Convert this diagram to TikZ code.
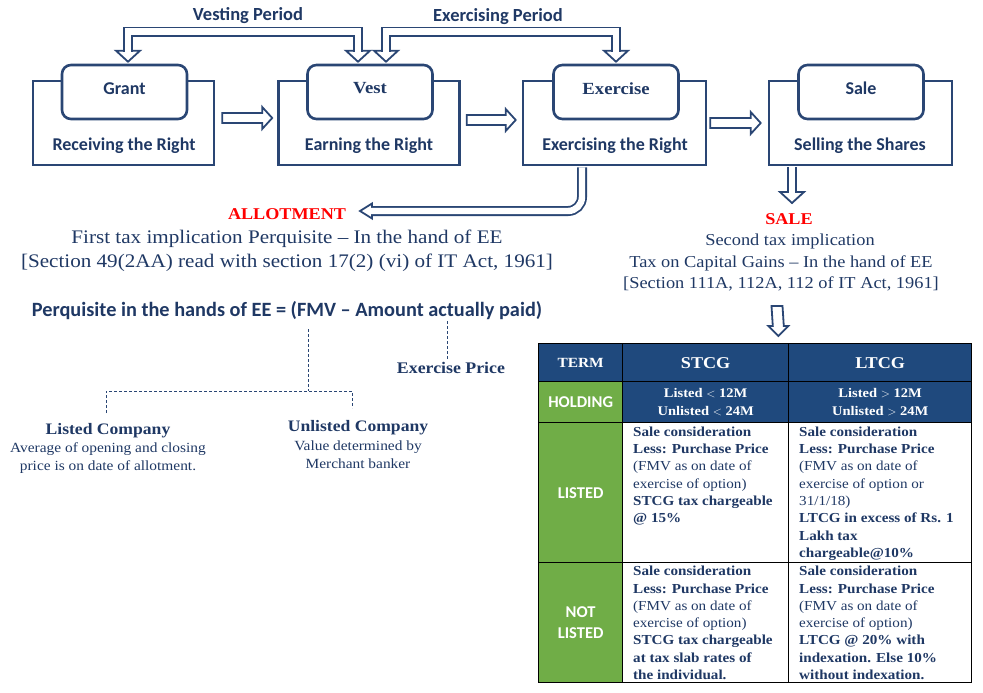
\documentclass[tikz,border=0pt]{standalone}
\usepackage{fontspec}
\setmainfont{Liberation Serif}[FakeStretch=1.1]
\newfontfamily\calib{Carlito}[Ligatures=TeX]
\usetikzlibrary{calc}
\definecolor{navy}{HTML}{1F3864}
\definecolor{lnavy}{HTML}{2A4674}
\definecolor{hdr}{HTML}{1F497D}
\definecolor{grn}{HTML}{70AD47}
\definecolor{redt}{HTML}{FF0000}
\newcommand\fs[2]{\fontsize{#1}{#2}\selectfont}
\tikzset{
  outerbox/.style={draw=lnavy, line width=2.6pt, minimum width=181pt, minimum height=84pt},
  innerbox/.style={draw=lnavy, fill=white, line width=2.6pt, rounded corners=9pt, minimum width=125pt, minimum height=54pt, font=\calib\bfseries\fs{18}{21}},
  innerserif/.style={innerbox, font=\bfseries\fs{17}{20}},
  subtxt/.style={font=\calib\bfseries\fs{18}{21}},
  pertxt/.style={font=\calib\bfseries\fs{18.5}{21}},
  blockarrow/.style={draw=lnavy, fill=white, line width=1.8pt, line join=miter},
  shaft/.style={draw=lnavy, line width=1.8pt, double=white, double distance=6.4pt, line join=miter},
  dashline/.style={draw=lnavy, line width=0.8pt, dash pattern=on 3pt off 2pt},
  bighead/.pic={\draw[blockarrow] (-11,-12) -- (0,0) -- (-11,12) -- cycle;},
  smallhead/.pic={\draw[blockarrow] (-12,-7.5) -- (0,0) -- (-12,7.5) -- cycle;},
  cell/.style={draw=black, line width=1.3pt, anchor=north west, align=center},
  hcell/.style={cell, fill=hdr, text=white},
  gcell/.style={cell, fill=grn, text=white, font=\calib\bfseries\fs{16.5}{21}},
  celltxt/.style={anchor=north west, align=left, font=\fs{13.75}{17.3}},
  redtitle/.style={text=redt, font=\bfseries\fs{16.5}{20}},
  bodytxt/.style={font=\fs{19.2}{24}, align=center},
  bodytxtR/.style={font=\fs{16.7}{21}, align=center},
}
\newcommand\myrarrow[2]{\draw[blockarrow] ($(#1)+(0,-5)$) -- ($(#2)+(-10,-5)$) -- ($(#2)+(-10,-11)$) -- (#2) -- ($(#2)+(-10,11)$) -- ($(#2)+(-10,5)$) -- ($(#1)+(0,5)$) -- cycle;}
\begin{document}
\begin{tikzpicture}[x=1pt,y=-1pt, every node/.style={inner sep=0, text=navy}]
\useasboundingbox (0,0) rectangle (983,693);
% ---- boxes
\node[outerbox] (grantO) at (123.5,123) {};
\node[outerbox] (vestO) at (369,123) {};
\node[outerbox, minimum width=183pt] (exO) at (614.5,123) {};
\node[outerbox, minimum width=183pt] (saleO) at (860.5,123) {};
\node[innerbox] (grantI) at (124.5,92) {\raisebox{7.5pt}{Grant}};
\node[innerserif] (vestI) at (370,92) {\raisebox{7.5pt}{Vest}};
\node[innerserif] (exI) at (616,92) {\raisebox{7.5pt}{Exercise}};
\node[innerbox] (saleI) at (861,92) {\raisebox{7.5pt}{Sale}};
\node[subtxt] (grantT) at (124,146) {Receiving the Right};
\node[subtxt] (vestT) at (369,146) {Earning the Right};
\node[subtxt] (exT) at (615,146) {Exercising the Right};
\node[subtxt] (saleT) at (860,146) {Selling the Shares};
% ---- horizontal arrows
\coordinate (h1s) at ($(grantO.east)+(7,-5)$);
\coordinate (h1t) at ($(vestO.west)+(-5,-5)$);
\coordinate (h2s) at ($(vestO.east)+(6,-3)$);
\coordinate (h2t) at ($(exO.west)+(-6,-3)$);
\coordinate (h3s) at ($(exO.east)+(3,0)$);
\coordinate (h3t) at ($(saleO.west)+(-7,0)$);
\myrarrow{h1s}{h1t}
\myrarrow{h2s}{h2t}
\myrarrow{h3s}{h3t}
% ---- period brackets
\node[pertxt] (vper) at (248,16) {Vesting Period};
\node[pertxt] (eper) at (498,17) {Exercising Period};
\coordinate (vpL) at ($(grantI.north)+(3.5,-2)$);
\coordinate (vpR) at ($(vestI.north)+(-12,-2)$);
\coordinate (epL) at ($(vestI.north)+(16,-2)$);
\coordinate (epR) at ($(exI.north)+(0,-2)$);
\pic[rotate=-90] at (vpL) {bighead};
\pic[rotate=-90] at (vpR) {bighead};
\pic[rotate=-90] at (epL) {bighead};
\pic[rotate=-90] at (epR) {bighead};
\draw[shaft] ($(vpL)+(0,-10)$) -- ++(0,-20) -| ($(vpR)+(0,-10)$);
\draw[shaft] ($(epL)+(0,-10)$) -- ++(0,-20) -| ($(epR)+(0,-10)$);
% ---- allotment
\node[redtitle] (allot) at (287,214) {ALLOTMENT};
\node[bodytxt] (first) at (287,239) {First tax implication Perquisite -- In the hand of EE};
\node[bodytxt] (sec49) at (287,263) {[Section 49(2AA) read with section 17(2) (vi) of IT Act, 1961]};
\coordinate (alS) at ($(exO.south)+(-32.5,1)$);
\coordinate (alT) at (360,211);
\pic[rotate=180] at (alT) {smallhead};
\draw[shaft, rounded corners=14pt] (alS) |- ($(alT)+(11,0)$);
% ---- sale
\node[redtitle] (sale) at (789,219) {SALE};
\node[bodytxtR] (second) at (790,241) {Second tax implication};
\node[bodytxtR] (taxcg) at (781,263) {Tax on Capital Gains -- In the hand of EE};
\node[bodytxtR] (sec111) at (781,284) {[Section 111A, 112A, 112 of IT Act, 1961]};
\coordinate (sdS) at ($(saleO.south)+(-68.5,1)$);
\coordinate (sdT) at (792,203);
\pic[rotate=-90] at (sdT) {bighead};
\draw[shaft] (sdS) -- ($(sdT)+(0,-10)$);
% ---- perquisite
\node[font=\calib\bfseries\fs{20.3}{24}] (perq) at (287,311) {Perquisite in the hands of EE = (FMV -- Amount actually paid)};
\node[font=\bfseries\fs{16.2}{18}] (exprice) at (451,368) {Exercise Price};
\node[font=\bfseries\fs{16}{19}] (lcT) at (108,431) {Listed Company};
\node[font=\fs{14}{18}, align=center] (lcD) at (108,458) {Average of opening and closing\\price is on date of allotment.};
\node[font=\bfseries\fs{16}{19}] (ucT) at (358,428) {Unlisted Company};
\node[font=\fs{14}{18}, align=center] (ucD) at (358,455) {Value determined by\\Merchant banker};
\coordinate (fmvP) at (308,329);
\coordinate (jn) at (308,391);
\coordinate (jl) at (106,391);
\coordinate (jr) at (352,391);
\coordinate (lcTop) at (106,413);
\coordinate (ucTop) at (352,408);
\coordinate (ep1) at (447,321);
\coordinate (ep2) at (447,360);
\draw[dashline] (fmvP) -- (jn);
\draw[dashline] (lcTop) -- (jl) -- (jr) -- (ucTop);
\draw[dashline] (ep1) -- (ep2);
% ---- table
\node[hcell, minimum width=84pt, minimum height=38pt, font=\bfseries\fs{14}{15}] (termH) at (538,343) {TERM};
\node[hcell, minimum width=166pt, minimum height=38pt, font=\bfseries\fs{16.5}{20}] (stcgH) at (622,343) {STCG};
\node[hcell, minimum width=183pt, minimum height=38pt, font=\bfseries\fs{16.5}{20}] (ltcgH) at (788,343) {LTCG};
\node[gcell, minimum width=84pt, minimum height=41pt] (holdC) at (538,381) {HOLDING};
\node[hcell, minimum width=166pt, minimum height=41pt, font=\bfseries\fs{13.2}{18}] (holdS) at (622,381) {Listed $<$ 12M\\Unlisted $<$ 24M};
\node[hcell, minimum width=183pt, minimum height=41pt, font=\bfseries\fs{13.2}{18}] (holdL) at (788,381) {Listed $>$ 12M\\Unlisted $>$ 24M};
\node[gcell, minimum width=84pt, minimum height=140pt] (listC) at (538,422) {LISTED};
\node[cell, minimum width=166pt, minimum height=140pt] (listS) at (622,422) {};
\node[cell, minimum width=183pt, minimum height=140pt] (listL) at (788,422) {};
\node[gcell, minimum width=84pt, minimum height=120pt] (nlC) at (538,562) {NOT\\LISTED};
\node[cell, minimum width=166pt, minimum height=120pt] (nlS) at (622,562) {};
\node[cell, minimum width=183pt, minimum height=120pt] (nlL) at (788,562) {};
\node[celltxt] (tLS) at ($(listS.north west)+(11,4.5)$) {\textbf{Sale consideration}\\\textbf{Less: Purchase Price}\\(FMV as on date of\\exercise of option)\\\textbf{STCG tax chargeable}\\\textbf{@ 15\%}};
\node[celltxt] (tLL) at ($(listL.north west)+(11,4.5)$) {\textbf{Sale consideration}\\\textbf{Less: Purchase Price}\\(FMV as on date of\\exercise of option or\\31/1/18)\\\textbf{LTCG in excess of Rs. 1}\\\textbf{Lakh tax}\\\textbf{chargeable@10\%}};
\node[celltxt] (tNS) at ($(nlS.north west)+(11,4)$) {\textbf{Sale consideration}\\\textbf{Less: Purchase Price}\\(FMV as on date of\\exercise of option)\\\textbf{STCG tax chargeable}\\\textbf{at tax slab rates of}\\\textbf{the individual.}};
\node[celltxt] (tNL) at ($(nlL.north west)+(11,4)$) {\textbf{Sale consideration}\\\textbf{Less: Purchase Price}\\(FMV as on date of\\exercise of option)\\\textbf{LTCG @ 20\% with}\\\textbf{indexation. Else 10\%}\\\textbf{without indexation.}};
% ---- arrow to table
\coordinate (d2s) at (777,306);
\coordinate (d2t) at ($(stcgH.north east)+(-11,-7)$);
\draw[blockarrow] ($(d2s)+(-5.5,0)$) -- ($(d2t)+(-5.5,-10)$) -- ($(d2t)+(-10,-10)$) -- (d2t) -- ($(d2t)+(10,-10)$) -- ($(d2t)+(5.5,-10)$) -- ($(d2s)+(5.5,0)$) -- cycle;
\end{tikzpicture}
\end{document}
